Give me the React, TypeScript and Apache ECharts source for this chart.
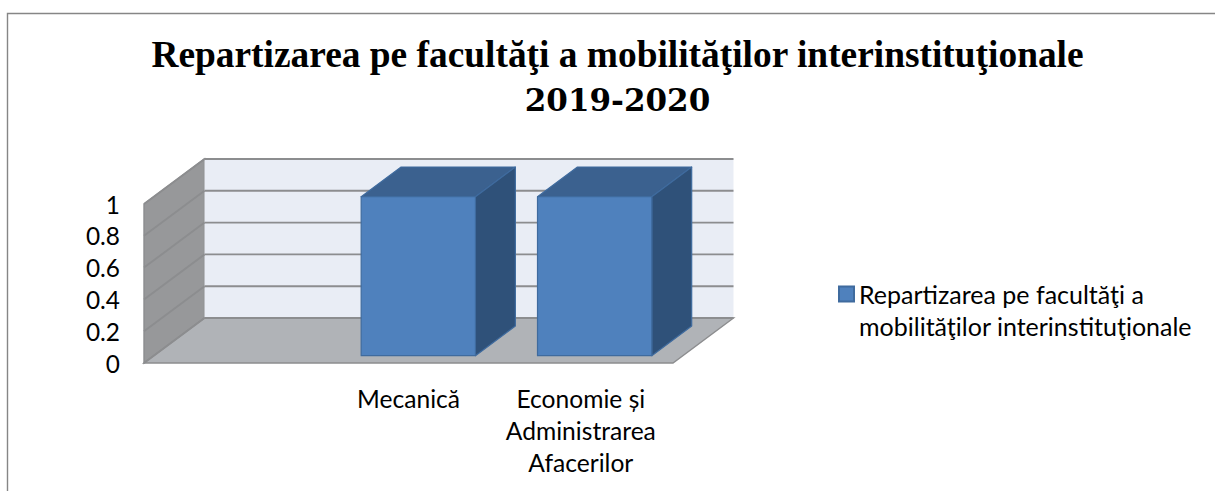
import React, { useEffect, useRef } from "react";
import * as echarts from "echarts";

const titleLine1 = "Repartizarea pe facultăţi a mobilităţilor interinstituţionale";
const titleLine2 = "2019-2020";
const seriesName = "Repartizarea pe facultăţi a mobilităţilor interinstituţionale";
const legendLines = ["Repartizarea pe facultăţi a", "mobilităţilor interinstituţionale"];
const categories = ["", "Mecanică", "Economie și\nAdministrarea\nAfacerilor"];
const values = [0, 1, 1];
const yTicks = [0, 0.2, 0.4, 0.6, 0.8, 1];

const DEPTH_X = 60.5;
const DEPTH_Y = -45;
const BAR_FRONT = 0.162;
const BAR_BACK = 0.822;
const BAR_WIDTH_RATIO = 0.648;
const LABEL_FONT = "Lato, Carlito, sans-serif";

function renderWalls(params: any, api: any) {
  const cs = params.coordSys;
  const tick = api.value(0);
  const y = api.coord([0, tick])[1];
  const left = cs.x;
  const right = cs.x + cs.width;
  const top = cs.y;
  const bottom = cs.y + cs.height;
  const children: any[] = [];
  const gridLine = { stroke: "#8c8d8f", lineWidth: 1.9 };
  if (params.dataIndex === 0) {
    children.push(
      {
        type: "polygon",
        shape: {
          points: [
            [left, top],
            [left + DEPTH_X, top + DEPTH_Y],
            [left + DEPTH_X, bottom + DEPTH_Y],
            [left, bottom],
          ],
        },
        style: { fill: "#97989a", stroke: "#8c8d8f", lineWidth: 1.4 },
      },
      {
        type: "rect",
        shape: { x: left + DEPTH_X, y: top + DEPTH_Y, width: cs.width, height: cs.height },
        style: { fill: "#e9edf5" },
      },
      {
        type: "polygon",
        shape: {
          points: [
            [left, bottom],
            [right, bottom],
            [right + DEPTH_X, bottom + DEPTH_Y],
            [left + DEPTH_X, bottom + DEPTH_Y],
          ],
        },
        style: { fill: "#b0b3b7", stroke: "#8c8d8f", lineWidth: 1.4 },
      }
    );
  }
  children.push(
    {
      type: "line",
      shape: { x1: left, y1: y, x2: left + DEPTH_X, y2: y + DEPTH_Y },
      style: gridLine,
    },
    {
      type: "line",
      shape: { x1: left + DEPTH_X, y1: y + DEPTH_Y, x2: right + DEPTH_X, y2: y + DEPTH_Y },
      style: gridLine,
    }
  );
  return { type: "group", children };
}

function renderBar(params: any, api: any) {
  const val = api.value(1);
  if (!val) return { type: "group", children: [] };
  const idx = api.value(0);
  const [cx, y0] = api.coord([idx, 0]);
  const y1 = api.coord([idx, val])[1];
  const w = api.size([1, 0])[0] * BAR_WIDTH_RATIO;
  const l = cx - w / 2 + DEPTH_X * BAR_FRONT;
  const r = l + w;
  const b = y0 + DEPTH_Y * BAR_FRONT;
  const t = y1 + DEPTH_Y * BAR_FRONT;
  const dx = DEPTH_X * (BAR_BACK - BAR_FRONT);
  const dy = DEPTH_Y * (BAR_BACK - BAR_FRONT);
  const stroke = { stroke: "#3f6b9e", lineWidth: 1.2, lineJoin: "round" };
  return {
    type: "group",
    children: [
      {
        type: "polygon",
        shape: { points: [[l, t], [r, t], [r + dx, t + dy], [l + dx, t + dy]] },
        style: { fill: "#3b618f", ...stroke },
      },
      {
        type: "polygon",
        shape: { points: [[r, t], [r + dx, t + dy], [r + dx, b + dy], [r, b]] },
        style: { fill: "#2f5179", ...stroke },
      },
      {
        type: "rect",
        shape: { x: l, y: t, width: w, height: b - t },
        style: { fill: "#4f81bd", ...stroke },
      },
    ],
  };
}

export default function App() {
  const ref = useRef<HTMLDivElement>(null);
  useEffect(() => {
    const chart = echarts.init(ref.current!, null, { renderer: "svg" });
    chart.setOption({
      animation: false,
      backgroundColor: "#ffffff",
      title: {
        left: 612.5,
        top: 26,
        textAlign: "center",
        text: `{a|${titleLine1}}\n{b|${titleLine2}}`,
        textStyle: {
          rich: {
            a: {
              fontFamily: "Liberation Serif",
              fontWeight: "bold",
              fontSize: 37.4,
              lineHeight: 46,
              color: "#000000",
            },
            b: {
              fontFamily: "DejaVu Serif",
              fontWeight: "bold",
              fontSize: 31,
              lineHeight: 46,
              color: "#000000",
            },
          },
        },
      },
      grid: { left: 144, top: 204, width: 529, height: 159 },
      xAxis: {
        type: "category",
        data: categories,
        axisLine: { show: false },
        axisTick: { show: false },
        axisLabel: {
          interval: 0,
          margin: 19,
          fontFamily: LABEL_FONT,
          fontSize: 24.6,
          lineHeight: 32,
          color: "#000000",
          formatter: (value: string, index: number) =>
            index === 2
              ? value.split("\n").map((line) => `{shifted|${line}}`).join("\n")
              : value,
          rich: {
            shifted: {
              fontFamily: LABEL_FONT,
              fontSize: 24.6,
              lineHeight: 32,
              color: "#000000",
              padding: [0, 8, 0, 0],
            },
          },
        },
      },
      yAxis: {
        type: "value",
        min: 0,
        max: 1,
        interval: 0.2,
        splitLine: { show: false },
        axisLine: { show: false },
        axisTick: { show: false },
        axisLabel: {
          margin: 24,
          fontFamily: LABEL_FONT,
          fontSize: 24.4,
          color: "#000000",
        },
      },
      legend: {
        left: 838,
        top: 246,
        padding: 0,
        orient: "vertical",
        icon: "rect",
        itemWidth: 15,
        itemHeight: 15,
        itemGap: 0,
        data: [seriesName],
        formatter: () => "\n" + legendLines.join("\n"),
        selectedMode: false,
        textStyle: {
          fontFamily: LABEL_FONT,
          fontSize: 25,
          lineHeight: 32,
          color: "#000000",
        },
      },
      series: [
        {
          type: "custom",
          name: "walls",
          silent: true,
          clip: false,
          data: yTicks.map((t) => [t]),
          encode: { y: 0 },
          renderItem: renderWalls,
        },
        {
          type: "custom",
          name: seriesName,
          silent: true,
          clip: false,
          itemStyle: { color: "#4f81bd", borderColor: "#3f6b9e", borderWidth: 1 },
          data: values.map((v, i) => [i, v]),
          encode: { x: 0, y: 1 },
          renderItem: renderBar,
        },
      ],
      graphic: [
        {
          type: "polyline",
          silent: true,
          shape: { points: [[7.5, 491], [7.5, 13.5], [1215, 13.5]] },
          style: { fill: "none", stroke: "#868686", lineWidth: 1.4 },
        },
      ],
    });
    return () => chart.dispose();
  }, []);
  return (
    <div
      ref={ref}
      style={{ position: "absolute", left: 0, top: 0, width: 1215, height: 491 }}
    />
  );
}
